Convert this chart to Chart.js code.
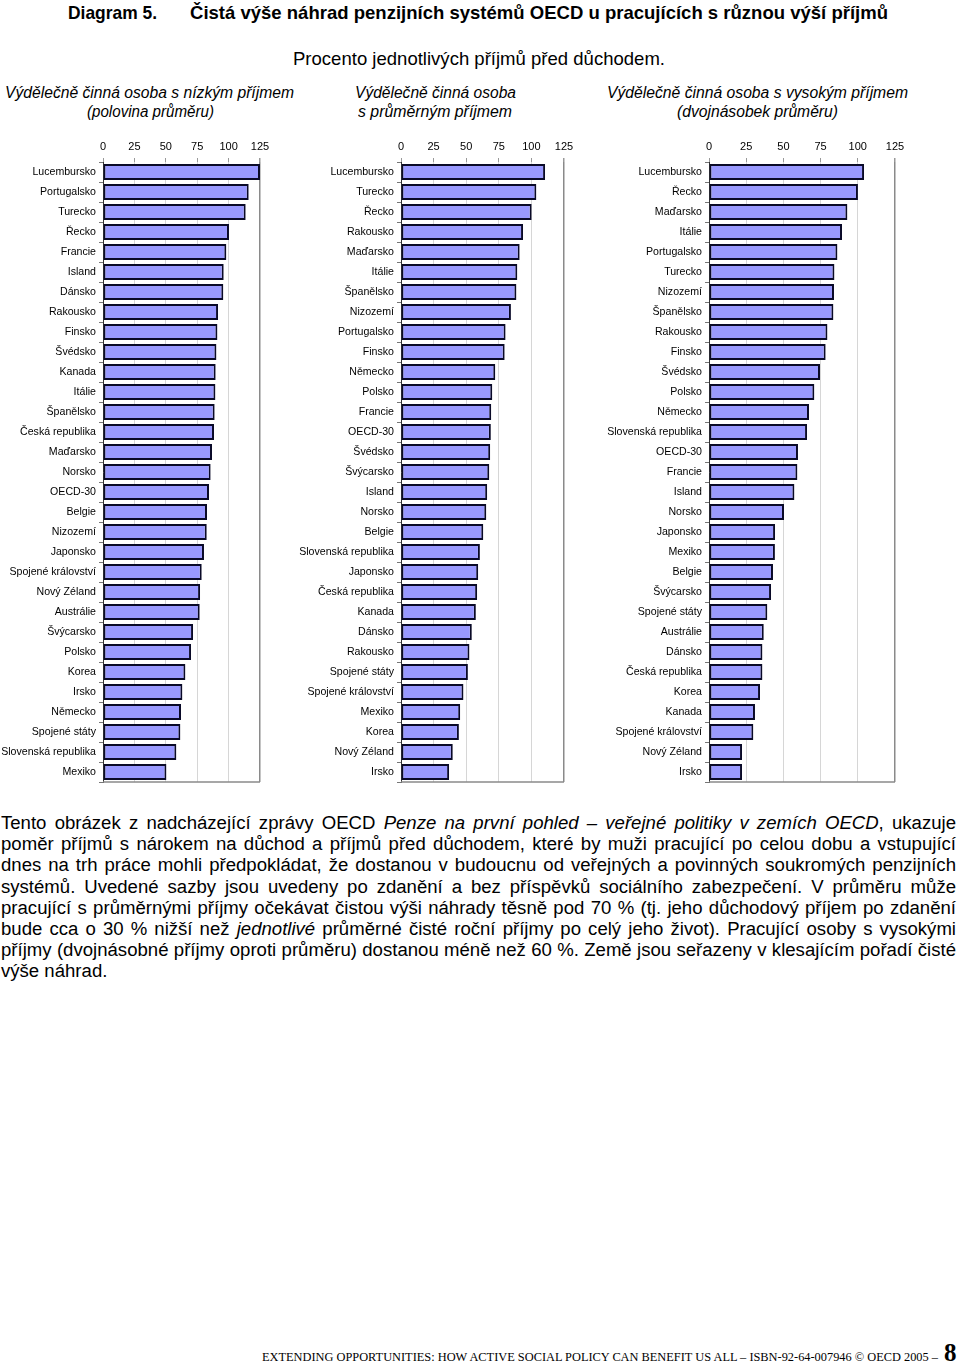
<!DOCTYPE html>
<html>
<head>
  <meta charset="utf-8">
  <title>Diagram 5</title>
  <script src="https://cdn.jsdelivr.net/npm/chart.js@4.4.0/dist/chart.umd.min.js"></script>
  <style>
    body { margin: 0; background: #fff; width: 960px; height: 1363px; position: relative; overflow: hidden;
           font-family: "Liberation Sans", Arial, sans-serif; color: #000; }
    .t { position: absolute; white-space: nowrap; transform-origin: 0 0; }
    .narrow { font-family: "Liberation Sans Narrow", "Arial Narrow", "Liberation Sans", Arial, sans-serif; }
    .box { position: absolute; top: 130px; height: 656px; }
    #text { position: absolute; left: 1px; top: 812px; width: 955px; font-size: 18px; line-height: 21.2px; }
    #text span { display: block; text-align: justify; text-align-last: justify; white-space: nowrap; }
    #text span.last { text-align-last: left; }
    .foot { font-family: "Liberation Serif", "Times New Roman", serif; }
  </style>
</head>
<body>
  <div class="t narrow" data-w="89" style="left:68px; top:2px; font-size:19px; font-weight:bold;">Diagram 5.</div>
  <div class="t narrow" data-w="698" style="left:190px; top:2px; font-size:19px; font-weight:bold;">Čistá výše náhrad penzijních systémů OECD u pracujících s různou výší příjmů</div>
  <div class="t narrow" data-w="372" style="left:293px; top:48px; font-size:19px;">Procento jednotlivých příjmů před důchodem.</div>

  <div class="t narrow" data-w="289" style="left:5px; top:84px; font-size:16px; font-style:italic;">Výdělečně činná osoba s nízkým příjmem</div>
  <div class="t narrow" data-w="127" style="left:87px; top:103px; font-size:16px; font-style:italic;">(polovina průměru)</div>
  <div class="t narrow" data-w="161" style="left:355px; top:84px; font-size:16px; font-style:italic;">Výdělečně činná osoba</div>
  <div class="t narrow" data-w="154" style="left:358px; top:103px; font-size:16px; font-style:italic;">s průměrným příjmem</div>
  <div class="t narrow" data-w="301" style="left:607px; top:84px; font-size:16px; font-style:italic;">Výdělečně činná osoba s vysokým příjmem</div>
  <div class="t narrow" data-w="161" style="left:677px; top:103px; font-size:16px; font-style:italic;">(dvojnásobek průměru)</div>

  <div class="box" style="left:0px; width:272px;"><canvas id="low"></canvas></div>
  <div class="box" style="left:288px; width:288px;"><canvas id="avg"></canvas></div>
  <div class="box" style="left:598px; width:310px;"><canvas id="high"></canvas></div>

  <div id="text">
    <span>Tento obrázek z nadcházející zprávy OECD <i>Penze na první pohled – veřejné politiky v zemích OECD</i>, ukazuje</span>
    <span>poměr příjmů s nárokem na důchod a příjmů před důchodem, které by muži pracující po celou dobu a vstupující</span>
    <span>dnes na trh práce mohli předpokládat, že dostanou v budoucnu od veřejných a povinných soukromých penzijních</span>
    <span>systémů. Uvedené sazby jsou uvedeny po zdanění a bez příspěvků sociálního zabezpečení. V průměru může</span>
    <span>pracující s průměrnými příjmy očekávat čistou výši náhrady těsně pod 70 % (tj. jeho důchodový příjem po zdanění</span>
    <span>bude cca o 30 % nižší než <i>jednotlivé</i> průměrné čisté roční příjmy po celý jeho život). Pracující osoby s vysokými</span>
    <span>příjmy (dvojnásobné příjmy oproti průměru) dostanou méně než 60 %. Země jsou seřazeny v klesajícím pořadí čisté</span>
    <span class="last">výše náhrad.</span>
  </div>

  <div class="t foot" data-w="676" style="left:262px; top:1349px; font-size:13px;">EXTENDING OPPORTUNITIES: HOW ACTIVE SOCIAL POLICY CAN BENEFIT US ALL – ISBN-92-64-007946 © OECD 2005 –</div>
  <div class="t foot" style="left:944px; top:1339px; font-size:25px; font-weight:bold;">8</div>

<script>
// tick labels of the value axis
var xTicks = [0, 25, 50, 75, 100, 125];

// low earner (half of average)
var lowLabels = ["Lucembursko", "Portugalsko", "Turecko", "Řecko", "Francie", "Island", "Dánsko", "Rakousko",
  "Finsko", "Švédsko", "Kanada", "Itálie", "Španělsko", "Česká republika", "Maďarsko", "Norsko", "OECD-30",
  "Belgie", "Nizozemí", "Japonsko", "Spojené království", "Nový Zéland", "Austrálie", "Švýcarsko", "Polsko",
  "Korea", "Irsko", "Německo", "Spojené státy", "Slovenská republika", "Mexiko"];
var lowValues = [125, 116, 113.6, 100.3, 98.2, 96.1, 95.8, 91.6, 91.1, 90.3, 89.7, 89.5, 88.9, 88.4, 86.8, 85.7,
  84.4, 82.8, 82.6, 80.4, 78.6, 77.3, 77, 71.7, 70.1, 65.6, 63.2, 62.1, 61.6, 58.4, 50.5];

// average earner
var avgLabels = ["Lucembursko", "Turecko", "Řecko", "Rakousko", "Maďarsko", "Itálie", "Španělsko", "Nizozemí",
  "Portugalsko", "Finsko", "Německo", "Polsko", "Francie", "OECD-30", "Švédsko", "Švýcarsko", "Island", "Norsko",
  "Belgie", "Slovenská republika", "Japonsko", "Česká republika", "Kanada", "Dánsko", "Rakousko", "Spojené státy",
  "Spojené království", "Mexiko", "Korea", "Nový Zéland", "Irsko"];
var avgValues = [110.5, 103.8, 100.2, 93.6, 91, 89.2, 88.5, 84.3, 80.2, 79.5, 72.3, 70, 69.2, 68.9, 68.4, 67.7,
  66.1, 65.4, 63.1, 60.5, 59.2, 58.4, 57.4, 54.3, 52.5, 51.3, 47.9, 45.4, 44.4, 39.7, 36.9];

// high earner (double average)
var highLabels = ["Lucembursko", "Řecko", "Maďarsko", "Itálie", "Portugalsko", "Turecko", "Nizozemí", "Španělsko",
  "Rakousko", "Finsko", "Švédsko", "Polsko", "Německo", "Slovenská republika", "OECD-30", "Francie", "Island",
  "Norsko", "Japonsko", "Mexiko", "Belgie", "Švýcarsko", "Spojené státy", "Austrálie", "Dánsko", "Česká republika",
  "Korea", "Kanada", "Spojené království", "Nový Zéland", "Irsko"];
var highValues = [104.2, 100.1, 93, 89.4, 86.3, 84.3, 84, 83.6, 79.6, 78.4, 74.6, 70.8, 67.2, 65.9, 59.8, 59.4,
  57.4, 50.4, 44.4, 44.3, 43, 41.7, 39.2, 36.8, 35.9, 35.9, 34.3, 30.9, 29.8, 22.2, 22.2];

// squeeze the titles to the width they have in the original
document.querySelectorAll(".t[data-w]").forEach(function(el) {
  var w = el.getBoundingClientRect().width;
  el.style.transform = "scaleX(" + (parseFloat(el.dataset.w) / w) + ")";
});

// pick the paragraph font size so the longest line just fills the width
(function() {
  var spans = document.querySelectorAll("#text span");
  var widest = 0;
  spans.forEach(function(s) {
    s.style.display = "inline-block";
    widest = Math.max(widest, s.getBoundingClientRect().width);
    s.style.display = "";
  });
  var size = 18 * 953 / widest;
  document.getElementById("text").style.fontSize = size + "px";
})();

var bottomLine = {
  id: "bottomLine",
  afterDraw: function(chart) {
    var a = chart.chartArea, c = chart.ctx;
    c.save();
    c.strokeStyle = "#8a8a8a";
    c.lineWidth = 1.5;
    c.beginPath();
    c.moveTo(a.left, a.bottom);
    c.lineTo(a.right, a.bottom);
    c.stroke();
    c.restore();
  }
};

function makeChart(id, labels, values, labelWidth, padRight) {
  var ctx = document.getElementById(id).getContext("2d");
  return new Chart(ctx, {
    type: "bar",
    data: {
      labels: labels,
      datasets: [{
        data: values,
        backgroundColor: "#9999ff",
        borderColor: "#0a0a28",
        borderWidth: 2,
        borderSkipped: false,
        barPercentage: 0.8,
        categoryPercentage: 1
      }]
    },
    options: {
      indexAxis: "y",
      responsive: true,
      maintainAspectRatio: false,
      animation: false,
      layout: { padding: { top: 0, right: padRight, bottom: 4, left: 0 } },
      plugins: { legend: { display: false }, tooltip: { enabled: false } },
      scales: {
        x: {
          position: "top",
          min: 0,
          max: 125,
          afterBuildTicks: function(scale) {
            scale.ticks = xTicks.map(function(v) { return { value: v }; });
          },
          afterFit: function(scale) {
            scale.height = 32;
            scale.paddingLeft = 0;
            scale.paddingRight = 0;
          },
          border: { display: false },
          grid: {
            color: function(c) { return c.tick && c.tick.value === 125 ? "#8a8a8a" : "#d6d6d6"; },
            lineWidth: function(c) { return c.tick && c.tick.value === 125 ? 1.5 : 1; },
            tickColor: "#999",
            tickLength: 4
          },
          ticks: { color: "#000", padding: 4, font: { family: "Liberation Sans", size: 11 } }
        },
        y: {
          afterFit: function(scale) {
            scale.width = labelWidth;
            scale.paddingTop = 0;
            scale.paddingBottom = 0;
          },
          border: { display: true, color: "#333", width: 1 },
          grid: { drawOnChartArea: false, drawTicks: true, tickLength: 4, offset: true, color: "#777" },
          ticks: { color: "#000", padding: 3, autoSkip: false, font: { family: "Liberation Sans", size: 10.6 } }
        }
      }
    },
    plugins: [bottomLine]
  });
}

makeChart("low", lowLabels, lowValues, 103, 12);
makeChart("avg", avgLabels, avgValues, 113, 12);
makeChart("high", highLabels, highValues, 111, 13);
</script>
</body>
</html>
